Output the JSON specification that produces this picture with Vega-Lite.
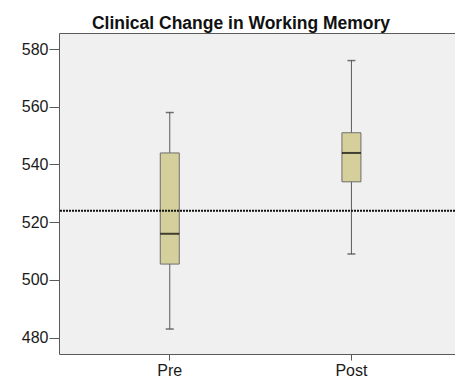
{
  "$schema": "https://vega.github.io/schema/vega-lite/v6.json",
  "autosize": "none",
  "width": 396,
  "height": 321,
  "padding": {"left": 59, "top": 33, "right": 0, "bottom": 25},
  "background": "#ffffff",
  "title": {
    "text": "Clinical Change in Working Memory",
    "font": "Liberation Sans",
    "fontSize": 17.5,
    "fontWeight": "bold",
    "color": "#111111",
    "anchor": "middle",
    "dx": -16,
    "offset": 1
  },
  "config": {
    "view": {"fill": "#f0f0f0", "stroke": "#5a5a5a", "strokeWidth": 1},
    "axis": {"labelFont": "Liberation Sans", "labelFontSize": 16, "labelColor": "#1a1a1a", "grid": false, "domain": false, "tickColor": "#5a5a5a", "title": null}
  },
  "data": {"values": [
    {"time": "Pre", "lower": 483, "q1": 505.5, "median": 516, "q3": 544, "upper": 558},
    {"time": "Post", "lower": 509, "q1": 534, "median": 544, "q3": 551, "upper": 576}
  ]},
  "layer": [
    {
      "mark": {"type": "rule", "color": "#5a5a5a", "strokeWidth": 1},
      "encoding": {
        "x": {"field": "time", "type": "nominal", "scale": {"type": "band", "domain": ["Pre", "Post"], "paddingInner": 0, "paddingOuter": 0.09, "align": 0.61}, "axis": {"labelAngle": 0, "tickSize": 6, "labelPadding": 2}},
        "y": {"field": "lower", "type": "quantitative", "scale": {"domain": [474.35, 585.55], "nice": false, "zero": false}, "axis": {"values": [480, 500, 520, 540, 560, 580], "tickSize": 10, "labelPadding": 1}},
        "y2": {"field": "upper"}
      }
    },
    {
      "mark": {"type": "tick", "color": "#3a3a3a", "size": 8, "thickness": 1.5},
      "encoding": {"x": {"field": "time", "type": "nominal"}, "y": {"field": "lower", "type": "quantitative"}}
    },
    {
      "mark": {"type": "tick", "color": "#3a3a3a", "size": 8, "thickness": 1.5},
      "encoding": {"x": {"field": "time", "type": "nominal"}, "y": {"field": "upper", "type": "quantitative"}}
    },
    {
      "mark": {"type": "bar", "size": 19, "fill": "#d5d09b", "stroke": "#6e6e6e", "strokeWidth": 1},
      "encoding": {"x": {"field": "time", "type": "nominal"}, "y": {"field": "q1", "type": "quantitative"}, "y2": {"field": "q3"}}
    },
    {
      "mark": {"type": "tick", "color": "#000000", "size": 19, "thickness": 2},
      "encoding": {"x": {"field": "time", "type": "nominal"}, "y": {"field": "median", "type": "quantitative"}}
    },
    {
      "data": {"values": [{"reference": 524}]},
      "mark": {"type": "rule", "color": "#111111", "strokeWidth": 2, "strokeDash": [2, 1]},
      "encoding": {"y": {"field": "reference", "type": "quantitative"}}
    }
  ]
}
